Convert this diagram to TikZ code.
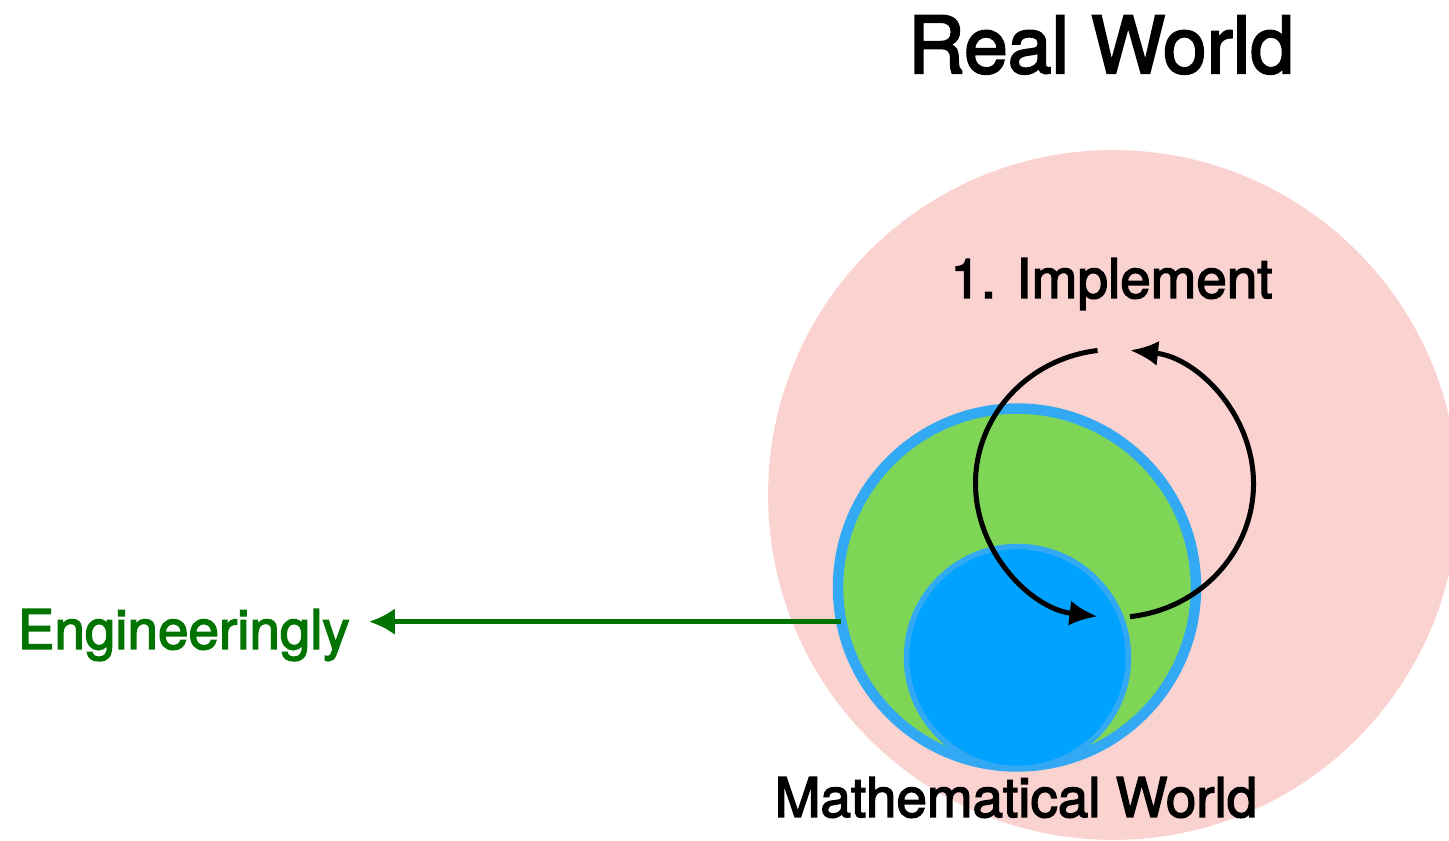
\documentclass[tikz,border=0pt]{standalone}
\usepackage{fontspec}
\setmainfont{TeX Gyre Heros}
\newfontfamily\medfont{TeX Gyre Heros}[FakeBold=2.6]
\usetikzlibrary{arrows.meta,positioning}

\definecolor{realpink}{RGB}{250,210,207}
\definecolor{mathgreen}{RGB}{127,214,86}
\definecolor{mathblue}{RGB}{51,169,243}
\definecolor{corefill}{RGB}{0,162,255}
\definecolor{enggreen}{RGB}{0,115,0}

\begin{document}
\begin{tikzpicture}[
  x=0.02cm, y=0.02cm,
  world/.style={circle, inner sep=0pt, outer sep=0pt},
  worldlabel/.style={anchor=base, inner sep=0pt, font=\medfont\fontsize{31.2}{36}\selectfont},
  cyclearrow/.style={black, line width=0.1cm, -{Latex[length=0.56cm,width=0.5cm]}},
  engarrow/.style={enggreen, line width=0.1cm, -{Latex[length=0.52cm,width=0.54cm]}},
]
\useasboundingbox (0,0) rectangle (1449,841);
\clip (0,0) rectangle (1449,841);

% ---------------- Worlds ----------------
\node[world, fill=realpink, minimum size=13.8cm] (real) at (1113,346) {};
\node[world, fill=mathgreen, draw=mathblue, line width=0.21cm,
      minimum size=7.16cm] (math) at (1017,253.5) {};
\node[world, fill=corefill, draw=mathblue, line width=0.11cm,
      minimum size=4.44cm] (core) at (1017.5,183.5) {};

% ---------------- Labels ----------------
\node[worldlabel, font=\medfont\fontsize{44.8}{50}\selectfont] (realtitle) at (1101,768) {Real World};
\node[worldlabel] (impl) at (1111.5,543) {1. Implement};
\node[worldlabel] (mathtitle) at (1016,24) {Mathematical World};
\node[worldlabel, anchor=base east, text=enggreen] (eng) at (350,192) {Engineeringly};

% arrow out to the left
\draw[engarrow, shorten >=0.38cm] (math.191.5) -- (math.191.5 -| eng.east);

% ---------------- Implement cycle ----------------
\coordinate (cyc) at (1114.5,357.5);
\draw[cyclearrow] (cyc) ++(97:139 and 134)
  arc[start angle=97, end angle=263, x radius=139, y radius=134];
\draw[cyclearrow] (cyc) ++(-83.6:139 and 134)
  arc[start angle=-83.6, end angle=83.6, x radius=139, y radius=134];

\end{tikzpicture}
\end{document}
